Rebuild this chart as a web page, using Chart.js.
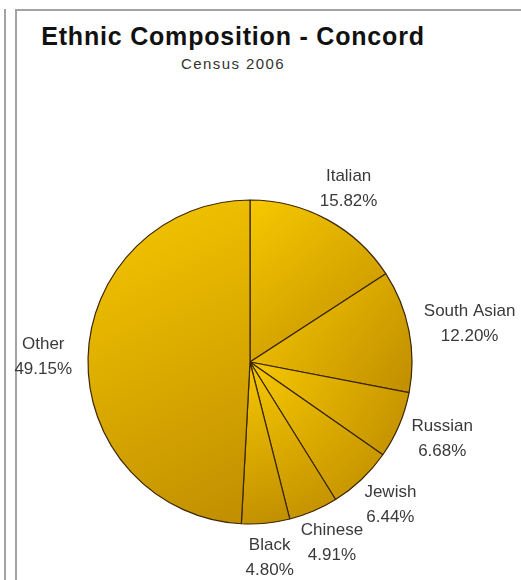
<!DOCTYPE html>
<html>
<head>
<meta charset="utf-8">
<script src="https://cdn.jsdelivr.net/npm/chart.js@4.4.1/dist/chart.umd.min.js"></script>
<style>
  html, body { margin: 0; padding: 0; background: #fff; }
  body { width: 521px; height: 580px; position: relative; overflow: hidden; font-family: "Liberation Sans", Arial, sans-serif; }
  .rule { position: absolute; background: #a3a3a3; }
  #title { position: absolute; left: 16px; width: 434px; top: 24px; text-align: center;
           font-size: 25px; line-height: 25px; font-weight: bold; color: #111; letter-spacing: 0.8px; white-space: nowrap; }
  #subtitle { position: absolute; left: 16px; width: 434px; top: 56px; text-align: center;
              font-size: 15px; line-height: 15px; color: #333; letter-spacing: 1.4px; white-space: nowrap; }
  #wrap { position: absolute; left: 0; top: 0; width: 521px; height: 580px; }
</style>
</head>
<body>
<div class="rule" style="left:4px; top:9px; width:2px; height:571px;"></div>
<div class="rule" style="left:15px; top:9px; width:2px; height:571px;"></div>
<div class="rule" style="left:15px; top:9px; width:506px; height:2px;"></div>
<div id="title">Ethnic Composition - Concord</div>
<div id="subtitle">Census 2006</div>
<div id="wrap"><canvas id="pieChart" width="521" height="580"></canvas></div>
<script>
// Share of population by ethnic origin, in percent
const groups = ['Italian', 'South Asian', 'Russian', 'Jewish', 'Chinese', 'Black', 'Other'];
const shares = [15.82, 12.20, 6.68, 6.44, 4.91, 4.80, 49.15];

const pieRadius = 162;
const goldLight = '#f6c800';
const goldDark = '#c08e00';

// each slice gets its own light-to-dark sweep across its bounding box
function sliceFill(context) {
    const chart = context.chart;
    const area = chart.chartArea;
    if (!area) return goldLight;
    const cx = (area.left + area.right) / 2;
    const cy = (area.top + area.bottom) / 2;
    const total = shares.reduce((a, b) => a + b, 0);
    const before = shares.slice(0, context.dataIndex).reduce((a, b) => a + b, 0);
    const a0 = before / total * Math.PI * 2 - Math.PI / 2;
    const a1 = (before + shares[context.dataIndex]) / total * Math.PI * 2 - Math.PI / 2;

    const xs = [cx], ys = [cy];
    const addPoint = a => { xs.push(cx + Math.cos(a) * pieRadius); ys.push(cy + Math.sin(a) * pieRadius); };
    addPoint(a0);
    addPoint(a1);
    for (let k = -2; k <= 6; k++) {
        const a = k * Math.PI / 2;
        if (a > a0 && a < a1) addPoint(a);
    }
    const x0 = Math.min(...xs), x1 = Math.max(...xs);
    const y0 = Math.min(...ys), y1 = Math.max(...ys);
    const g = chart.ctx.createLinearGradient(x0, y0, x1, y1);
    g.addColorStop(0, goldLight);
    g.addColorStop(1, goldDark);
    return g;
}

// name and percentage outside each slice
const outsideLabels = {
    id: 'outsideLabels',
    afterDatasetsDraw(chart) {
        const ctx = chart.ctx;
        const meta = chart.getDatasetMeta(0);
        const gap = 16;
        const halfH = 19;
        ctx.save();
        ctx.font = '17px "Liberation Sans", Arial, sans-serif';
        ctx.fillStyle = '#3a3a3a';
        ctx.textAlign = 'center';
        ctx.textBaseline = 'middle';
        meta.data.forEach((arc, i) => {
            const p = arc.getProps(['x', 'y', 'startAngle', 'endAngle', 'outerRadius'], true);
            const mid = (p.startAngle + p.endAngle) / 2;
            const dx = Math.cos(mid), dy = Math.sin(mid);
            const line1 = groups[i];
            const line2 = shares[i].toFixed(2) + '%';
            const halfW = Math.max(ctx.measureText(line1).width, ctx.measureText(line2).width) / 2;
            const lx = p.x + dx * (p.outerRadius + gap + halfW);
            const ly = p.y + dy * (p.outerRadius + gap + halfH);
            ctx.fillText(line1, lx, ly - 12.5);
            ctx.fillText(line2, lx, ly + 12.5);
        });
        ctx.restore();
    }
};

const pieCtx = document.getElementById('pieChart').getContext('2d');
const pieChart = new Chart(pieCtx, {
    type: 'pie',
    data: {
        labels: groups,
        datasets: [{
            data: shares,
            backgroundColor: sliceFill,
            borderColor: '#3c2600',
            borderWidth: 1.2,
            radius: pieRadius
        }]
    },
    options: {
        responsive: false,
        animation: false,
        layout: { padding: { left: 50, right: 71, top: 162, bottom: 18 } },
        plugins: {
            legend: { display: false },
            tooltip: { enabled: false }
        }
    },
    plugins: [outsideLabels]
});
</script>
</body>
</html>
